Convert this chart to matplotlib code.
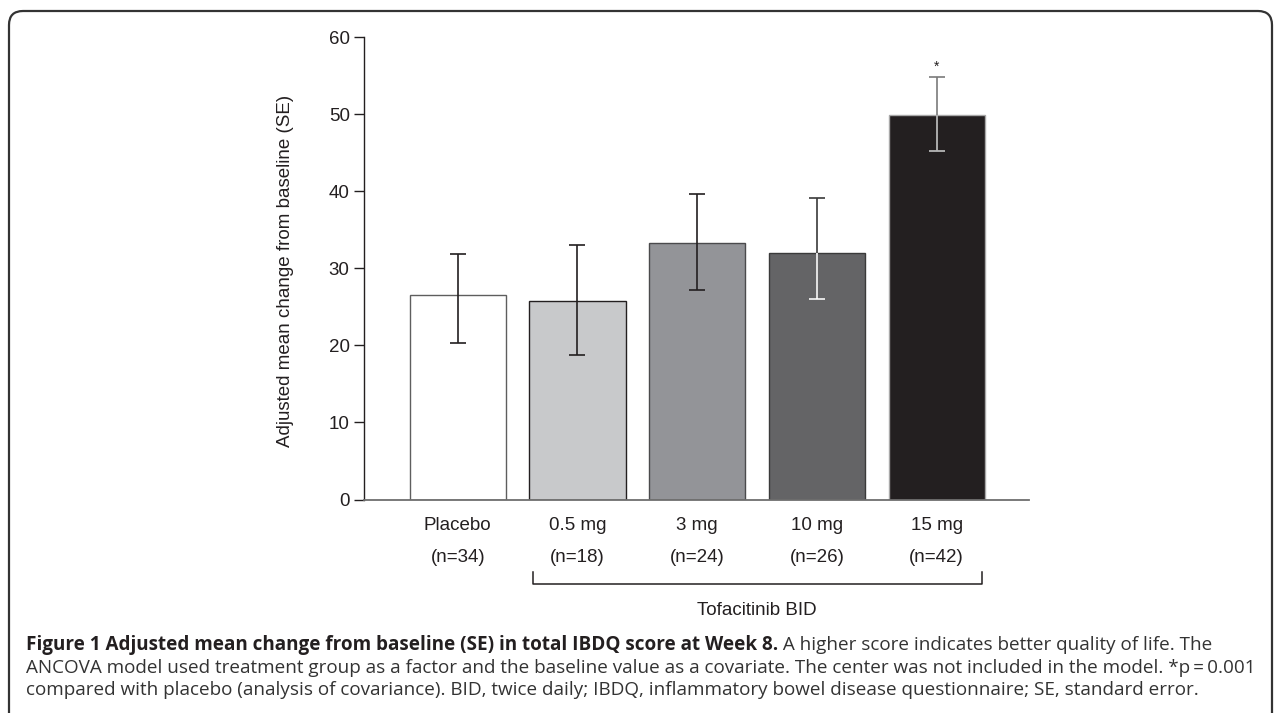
import numpy as np
import matplotlib.pyplot as plt
from matplotlib.patches import FancyBboxPatch
from matplotlib.transforms import IdentityTransform

# values
groups = ['Placebo', '0.5 mg', '3 mg', '10 mg', '15 mg']
n_labels = ['(n=34)', '(n=18)', '(n=24)', '(n=26)', '(n=42)']
means = [26.5, 25.8, 33.3, 32.0, 49.9]
upper = [31.9, 33.1, 39.7, 39.2, 54.8]
lower = [20.3, 18.7, 27.2, 26.0, 45.3]

bar_colors = ['#ffffff', '#c8c9cb', '#939498', '#646466', '#231f20']
edge_colors = ['#5e5e5e', '#231f20', '#4a4a4c', '#3a3a3a', '#a8a8a8']
err_up_colors = ['#231f20', '#231f20', '#231f20', '#3a3a3a', '#7a7a7a']
err_lo_colors = ['#231f20', '#231f20', '#231f20', '#ffffff', '#b4b4b4']

cap_bold = 'Figure 1 Adjusted mean change from baseline (SE) in total IBDQ score at Week 8.'
cap_rest = [' A higher score indicates better quality of life. The',
            'ANCOVA model used treatment group as a factor and the baseline value as a covariate. '
            'The center was not included in the model. *p\u2009=\u20090.001',
            'compared with placebo (analysis of covariance). BID, twice daily; IBDQ, '
            'inflammatory bowel disease questionnaire; SE, standard error.']

W, H = 1281, 713
dark = '#231f20'
plt.rcParams['font.family'] = ['Liberation Sans', 'DejaVu Sans']

fig = plt.figure(figsize=(W / 100, H / 100), dpi=100)
ax = fig.add_axes([364.3 / W, 1 - 499.5 / H, (1029 - 364.3) / W, (499.5 - 37.3) / H])

x = np.arange(len(groups))
ax.bar(x, means, width=0.804, color=bar_colors, edgecolor=edge_colors, linewidth=1.0, zorder=2)

up = np.array(upper) - np.array(means)
lo = np.array(means) - np.array(lower)
for i in range(len(groups)):
    ax.errorbar(x[i], means[i], yerr=[[lo[i]], [up[i]]], fmt='none', ecolor=err_up_colors[i],
                elinewidth=1.2, capsize=5.8, capthick=1.2, zorder=3)
    if err_lo_colors[i] != err_up_colors[i]:
        ax.vlines(x[i], lower[i], means[i], color=err_lo_colors[i], lw=1.2, zorder=4)
        ax.hlines(lower[i], x[i] - 0.067, x[i] + 0.067, color=err_lo_colors[i], lw=1.2, zorder=4)

ax.annotate('*', xy=(x[4], upper[4]), xytext=(0, 4.5), textcoords='offset points',
            ha='center', va='baseline', fontsize=10, color=dark)

ax.set_xlim(-0.78, 4.771)
ax.set_ylim(0, 60)
ax.set_yticks(range(0, 61, 10))
ax.set_xticks([])
for s in ['top', 'right']:
    ax.spines[s].set_visible(False)
ax.spines['left'].set_color(dark)
ax.spines['left'].set_linewidth(1.0)
ax.spines['bottom'].set_color('#6e6e6e')
ax.spines['bottom'].set_linewidth(1.3)
ax.spines['bottom'].set_zorder(5)
ax.tick_params(axis='y', length=7.5, width=1.0, pad=3, labelsize=13.5, colors=dark)

tr = ax.get_xaxis_transform()
for i in range(len(groups)):
    ax.text(x[i], -0.066, groups[i], transform=tr, ha='center', va='baseline', fontsize=13.5, color=dark)
    ax.text(x[i], -0.1352, n_labels[i], transform=tr, ha='center', va='baseline', fontsize=13.5, color=dark)

bx0, bx1 = 0.626, 4.376
ax.plot([bx0, bx0, bx1, bx1], [-0.1562, -0.1828, -0.1828, -0.1562], transform=tr,
        color=dark, lw=1.1, clip_on=False)
ax.text((bx0 + bx1) / 2, -0.249, 'Tofacitinib BID', transform=tr, ha='center', va='baseline',
        fontsize=13.5, color=dark)

fig.text(285 / W, 1 - 271 / H, 'Adjusted mean change from baseline (SE)', rotation=90,
         ha='center', va='center', fontsize=13.5, color=dark)

# rounded frame, bottom edge runs off the picture
frame = FancyBboxPatch((9, -20), 1263, 722, boxstyle='round,pad=0,rounding_size=14',
                       transform=IdentityTransform(), fill=False, ec='#333333', lw=1.6)
fig.add_artist(frame)

# caption
cap_font = ['Open Sans', 'DejaVu Sans']
cap_fs = 12
renderer = fig.canvas.get_renderer()
probe = fig.text(26 / W, 1 - 673 / H, cap_rest[1], fontsize=cap_fs, family=cap_font, va='baseline', color='#333333')
w2 = probe.get_window_extent(renderer).width
cap_fs = cap_fs * 1226 / w2
probe.set_fontsize(cap_fs)

t1 = fig.text(26 / W, 1 - 650 / H, cap_bold, fontsize=cap_fs, family=cap_font, fontweight='bold',
              va='baseline', color=dark)
wb = t1.get_window_extent(renderer).width
fig.text((26 + wb) / W, 1 - 650 / H, cap_rest[0], fontsize=cap_fs, family=cap_font, va='baseline', color='#333333')
fig.text(26 / W, 1 - 695 / H, cap_rest[2], fontsize=cap_fs, family=cap_font, va='baseline', color='#333333')

fig.savefig('out.png', dpi=100)
